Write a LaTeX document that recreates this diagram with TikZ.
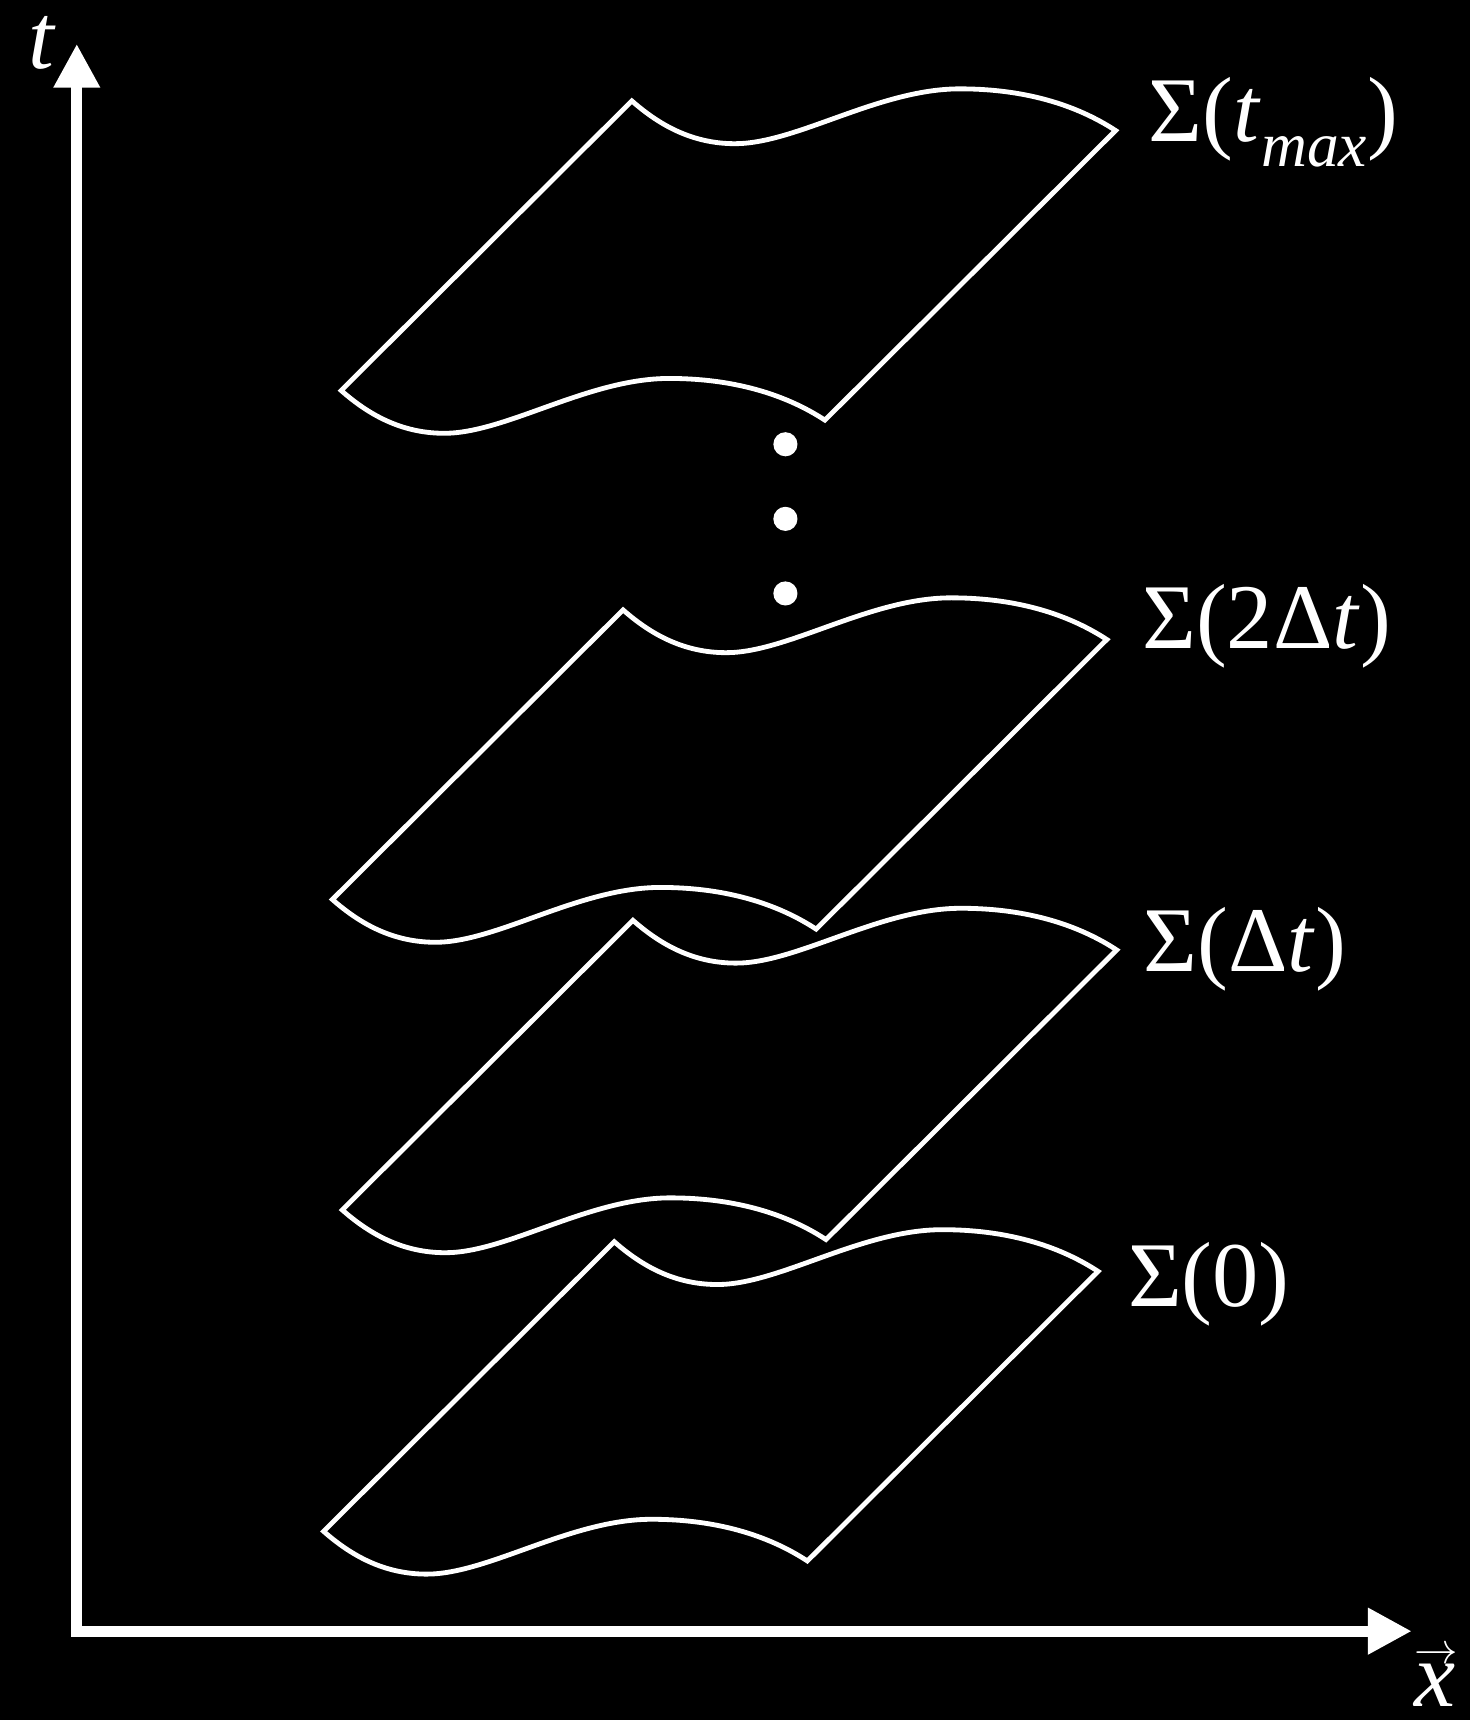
\documentclass[tikz,border=0pt]{standalone}
\usepackage{fontspec}
\setmainfont{Liberation Serif}
\usepackage{graphicx}
\usetikzlibrary{arrows.meta}
\tikzset{
  axis/.style={draw=white, line width=5.6pt, {Triangle[length=0.8cm, width=0.8cm]}-{Triangle[length=0.8cm, width=0.8cm]}},
  sheetLine/.style={draw=white, line width=2.5pt},
  sliceLabel/.style={text=white, anchor=base west, inner sep=0pt, font=\fontsize{48}{58}\selectfont},
  axisLabel/.style={text=white, anchor=base, inner sep=0pt, font=\fontsize{48}{58}\selectfont\itshape},
  sheet/.pic={
    % wavy slice, lower edge shifted up to the upper edge
    \draw[sheetLine] (0,0) .. controls (25,22) and (55,39) .. (94,39)
      .. controls (150,39) and (225,-11) .. (299,-11)
      .. controls (370,-11) and (415,10) .. (441,27)
      -- (706,-237)
      .. controls (680,-254) and (635,-275) .. (564,-275)
      .. controls (490,-275) and (415,-225) .. (359,-225)
      .. controls (320,-225) and (290,-242) .. (265,-264)
      -- cycle;
  }
}
\newcommand{\subMax}{\raisebox{-0.27em}{\fontsize{33}{40}\selectfont\itshape max}}
\newcommand{\vecArrow}{\raisebox{0.47em}{\resizebox{0.47em}{!}{$\rightarrow$}}}

\begin{document}
\begin{tikzpicture}[x=0.02cm, y=-0.02cm]
  \fill[black] (0,0) rectangle (1340,1568);

  % axes
  \coordinate (origin) at (70,1487);
  \coordinate (tTip) at (70,40);
  \coordinate (xTip) at (1287,1487);
  \draw[axis] (tTip) -- (origin) -- (xTip);
  \node[axisLabel] (tLabel) at (38,62) {t};
  \node[axisLabel] (xLabel) at (1308,1556) {\rlap{\vecArrow}x};

  % slices
  \pic at (311,356) {sheet};
  \pic at (303,820) {sheet};
  \pic at (312,1103) {sheet};
  \pic at (295,1396) {sheet};

  \foreach \y in {405,473,541}
    \fill[white] (716,\y) circle[radius=0.22cm];

  \node[sliceLabel] (sigmaMax) at (1047,129) {Σ(\textit{t}\subMax)};
  \node[sliceLabel] (sigmaTwo) at (1041,591) {Σ(2Δ\textit{t})};
  \node[sliceLabel] (sigmaOne) at (1042,886) {Σ(Δ\textit{t})};
  \node[sliceLabel] (sigmaZero) at (1028,1191) {Σ(0)};
\end{tikzpicture}
\end{document}
